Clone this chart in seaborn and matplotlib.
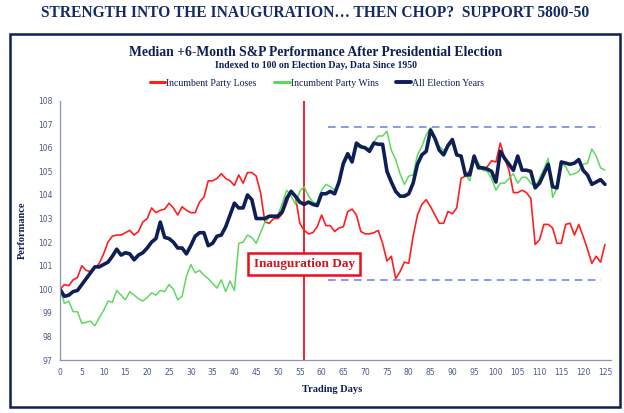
import numpy as np
import pandas as pd
import seaborn as sns
import matplotlib.pyplot as plt
from matplotlib.patches import Rectangle
from matplotlib.lines import Line2D

sns.set_style("white")

days = list(range(126))

loses = [100.0, 100.2, 100.15, 100.4, 100.5, 101.0, 100.8, 100.75, 100.9, 101.1,
         101.5, 102.0, 102.25, 102.3, 102.3, 102.4, 102.5, 102.3, 102.45, 102.85,
         103.0, 103.45, 103.25, 103.35, 103.4, 103.65, 103.45, 103.15, 103.5, 103.35,
         103.25, 103.25, 103.7, 103.9, 104.6, 104.6, 104.7, 104.9, 104.7, 104.6,
         104.4, 104.85, 104.5, 104.95, 104.95, 104.8, 104.1, 102.85, 102.8, 103.0,
         103.0, 103.2, 103.65, 104.2, 103.95, 102.8, 102.5, 102.35, 102.4, 102.65,
         103.15, 102.7, 102.7, 102.45, 102.6, 102.65, 103.3, 103.4, 103.15, 102.45,
         102.35, 102.35, 102.4, 102.5, 101.95, 101.2, 101.4, 100.45, 100.75, 101.15,
         101.1, 102.25, 103.15, 103.6, 103.8, 103.5, 103.15, 102.8, 102.8, 103.3,
         103.2, 103.45, 104.7, 104.8, 105.05, 105.5, 105.3, 105.05, 105.2, 105.45,
         105.4, 106.2, 105.55, 105.05, 104.1, 104.1, 104.2, 104.1, 103.85, 101.9,
         102.1, 102.75, 102.75, 102.6, 101.95, 101.95, 102.75, 102.8, 102.3, 102.75,
         102.25, 101.7, 101.1, 101.4, 101.15, 101.9]

wins = [100.0, 99.4, 99.5, 99.05, 99.05, 98.55, 98.6, 98.65, 98.45, 98.8,
        99.1, 99.5, 99.45, 99.95, 99.75, 99.55, 99.9, 99.75, 99.6, 99.5,
        99.65, 99.85, 99.75, 99.95, 99.9, 100.2, 100.0, 99.55, 99.7, 100.55,
        101.05, 100.7, 100.8, 100.6, 100.45, 100.25, 100.05, 100.4, 99.9, 100.35,
        99.95, 101.95, 102.0, 102.3, 102.2, 101.95, 102.4, 102.85, 103.05, 103.1,
        103.15, 103.65, 104.2, 103.95, 103.6, 104.15, 104.35, 103.95, 103.7, 103.65,
        104.2, 104.45, 104.35, 104.2, 104.55, 105.2, 105.6, 105.5, 106.05, 106.0,
        105.95, 106.0, 106.25, 106.5, 106.5, 106.7, 105.9, 105.5, 104.9, 104.45,
        104.8, 104.85, 105.7, 106.05, 106.55, 106.85, 106.4, 106.05, 105.9, 106.05,
        106.2, 105.7, 105.65, 104.9, 104.6, 105.55, 105.35, 105.05, 105.0, 104.7,
        104.2, 104.5, 104.5, 104.7, 104.9, 104.5, 104.75, 104.75, 104.5, 104.35,
        104.7, 105.1, 105.55, 103.9, 104.3, 105.35, 105.2, 104.85, 104.9, 105.0,
        105.3, 105.35, 105.95, 105.65, 105.15, 105.05]

all_years = [100.0, 99.7, 99.75, 99.9, 99.95, 100.2, 100.45, 100.7, 100.95, 100.95,
             101.05, 101.15, 101.4, 101.7, 101.45, 101.55, 101.5, 101.25, 101.45, 101.55,
             101.75, 102.0, 102.15, 102.85, 102.2, 102.15, 102.0, 101.75, 101.75, 101.5,
             101.85, 102.25, 102.4, 102.4, 101.85, 101.95, 102.25, 102.3, 102.65, 103.15,
             103.65, 103.45, 103.45, 104.0, 103.8, 103.0, 103.0, 103.0, 103.1, 103.1,
             103.1, 103.3, 103.85, 104.15, 103.95, 103.7, 103.6, 103.7, 103.6, 103.55,
             104.05, 104.05, 104.15, 104.05, 104.55, 105.35, 105.75, 105.4, 106.2, 106.05,
             106.0, 105.85, 106.2, 106.15, 106.15, 105.0, 104.55, 104.15, 103.95, 103.95,
             104.05, 104.5, 105.3, 105.7, 105.85, 106.75, 106.4, 105.9, 105.7, 106.1,
             106.35, 105.7, 105.65, 104.85, 104.85, 105.65, 105.15, 105.15, 105.1, 105.0,
             104.55, 105.85, 105.55, 105.3, 105.05, 105.65, 105.05, 105.05, 105.0, 104.3,
             104.5, 104.9, 105.3, 104.35, 104.3, 105.4, 105.35, 105.3, 105.35, 105.5,
             105.05, 104.85, 104.45, 104.55, 104.65, 104.45]

inauguration_day = 56
range_high = 106.9
range_low = 100.38
range_start, range_end = 61.5, 124

navy = "#0d1f55"
red = "#ff1f1f"
green = "#5fd860"
dash_blue = "#6a7cf2"
tick_col = "#4a5a86"
serif = ["Liberation Serif", "DejaVu Serif"]

df = pd.DataFrame({"day": days, "loses": loses, "wins": wins, "all": all_years})

fig = plt.figure(figsize=(6.24, 4.13), dpi=100)
ax = fig.add_axes([0.0962, 0.1283, 0.883, 0.628])

sns.lineplot(data=df, x="day", y="loses", color=red, linewidth=1.2, ax=ax)
sns.lineplot(data=df, x="day", y="wins", color=green, linewidth=1.1, ax=ax)
sns.lineplot(data=df, x="day", y="all", color=navy, linewidth=2.6, ax=ax)

ax.axvline(inauguration_day, color="#e8101a", linewidth=1.3, zorder=1)
ax.hlines([range_high, range_low], range_start, range_end, colors=dash_blue,
          linestyles=(0, (5, 3.5)), linewidth=1.1)

ax.text(inauguration_day, 101.07, "Inauguration Day", ha="center", va="center",
        color="#d4121c", fontsize=9.5, fontweight="bold", family=serif,
        bbox=dict(boxstyle="square,pad=0.4", fc="white", ec="#e8101a", lw=1.8))

ax.set_xlim(0, 126.4)
ax.set_ylim(97, 108)
ax.set_xticks(range(0, 126, 5))
ax.set_yticks(range(97, 109))
ax.tick_params(axis="both", labelsize=5.5, colors=tick_col, length=2.5, width=0.8,
               direction="out", pad=3)
for lab in ax.get_xticklabels() + ax.get_yticklabels():
    lab.set_color(tick_col)
ax.tick_params(axis="both", color="#8a96b8")
sns.despine(ax=ax)
for side in ["left", "bottom"]:
    ax.spines[side].set_color("#8a96b8")
    ax.spines[side].set_linewidth(0.9)
ax.set_xlabel("")
ax.set_ylabel("")

fig.text(0.036, 0.443, "Performance", rotation=90, ha="center", va="center",
         color=navy, fontsize=7.5, fontweight="bold", family=serif)
fig.text(0.532, 0.058, "Trading Days", ha="center", va="center",
         color=navy, fontsize=7.5, fontweight="bold", family=serif)

fig.text(0.505, 0.968, "STRENGTH INTO THE INAUGURATION\u2026 THEN CHOP?  SUPPORT 5800-50",
         ha="center", va="center", color="#142a66", fontsize=11.2, fontweight="bold",
         family=serif)
fig.text(0.506, 0.873, "Median +6-Month S&P Performance After Presidential Election",
         ha="center", va="center", color=navy, fontsize=9.8, fontweight="bold",
         family=serif)
fig.text(0.506, 0.842, "Indexed to 100 on Election Day, Data Since 1950",
         ha="center", va="center", color=navy, fontsize=7, fontweight="bold",
         family=serif)

handles = [Line2D([], [], color=red, lw=2.2),
           Line2D([], [], color=green, lw=2.2),
           Line2D([], [], color=navy, lw=2.8)]
labels = ["Incumbent Party Loses", "Incumbent Party Wins", "All Election Years"]
leg = fig.legend(handles, labels, loc="center", bbox_to_anchor=(0.508, 0.799), ncol=3,
                 frameon=False, handlelength=1.6, handletextpad=0.1, columnspacing=1.8,
                 prop={"family": serif, "size": 7})
for t in leg.get_texts():
    t.set_color(navy)

fig.patches.append(Rectangle((0.016, 0.0145), 0.9776, 0.9032, transform=fig.transFigure,
                             fill=False, ec=navy, lw=1.8))

fig.savefig("out.png", dpi=100)
